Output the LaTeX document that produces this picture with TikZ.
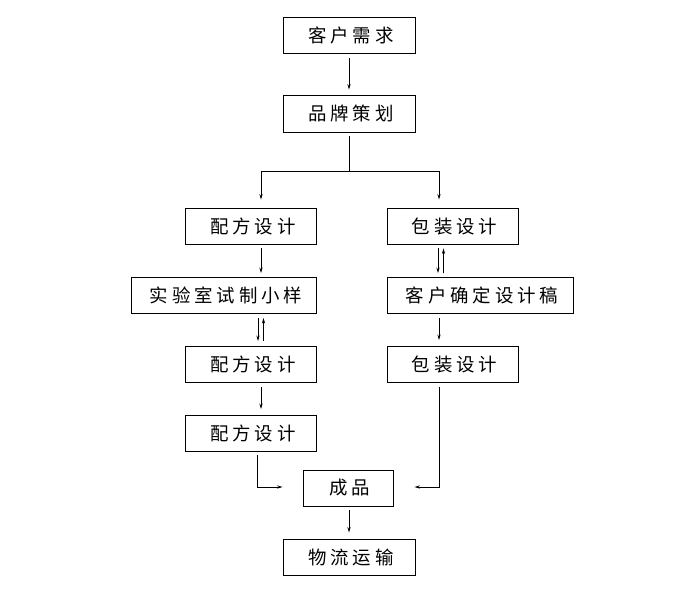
\documentclass[tikz,border=0pt]{standalone}
\usepackage{fontspec}
\newfontfamily\cjk[LetterSpace=21]{Noto Sans CJK SC}
\usetikzlibrary{arrows.meta,calc}
\newcommand\tx[1]{#1\kern-0.21em}
\begin{document}
\begin{tikzpicture}[x=1bp,y=-1bp,
  box/.style={draw,line width=0.9bp,rectangle,minimum height=36bp,inner sep=0pt,
    font=\cjk\fontsize{18.5}{20}\selectfont},
  wbox/.style={box,minimum width=131bp},
  lbox/.style={box,minimum width=185bp},
  arr/.style={line width=0.8bp,-{Stealth[length=5.5bp,width=3.2bp]}},
  ln/.style={line width=0.8bp}]
\useasboundingbox (0,0) rectangle (700,609);
\node[box,minimum width=132bp] (A) at (349,35.5) {\tx{客户需求}};
\node[box,minimum width=132bp,minimum height=37bp] (B) at (349,113.5) {\tx{品牌策划}};
\node[wbox] (C1) at (251,226) {\tx{配方设计}};
\node[wbox] (D1) at (452.5,226) {\tx{包装设计}};
\node[lbox] (C2) at (224,295.5) {\tx{实验室试制小样}};
\node[lbox,minimum width=186bp] (D2) at (480,295.5) {\tx{客户确定设计稿}};
\node[wbox] (C3) at (251,364.5) {\tx{配方设计}};
\node[wbox] (D3) at (452.5,364.5) {\tx{包装设计}};
\node[wbox] (C4) at (251,433.5) {\tx{配方设计}};
\node[box,minimum width=90bp] (E) at (348,488) {\tx{成品}};
\node[box,minimum width=132bp] (F) at (349,557) {\tx{物流运输}};
% A -> B
\draw[arr] ($(A.south)+(0,4)$) -- ($(B.north)+(0,-5)$);
% branch
\coordinate (br) at ($(B.south)+(0,39)$);
\draw[ln] ($(B.south)+(0,4)$) -- (br);
\draw[arr] (br -| 261,0) -- ($(C1.north)+(10,-8)$);
\draw[arr] (br -| 439,0) -- ($(D1.north)+(-13.5,-8)$);
\draw[ln] (br -| 261,0) -- (br -| 439,0);
% left column
\draw[arr] ($(C1.south)+(10,4)$) -- ($(C2.north)+(37,-4)$);
\draw[arr] ($(C2.south)+(34,4)$) -- ($(C3.north)+(7,-5)$);
\draw[arr] ($(C3.north)+(12.5,-5)$) -- ($(C2.south)+(39.5,4)$);
\draw[arr] ($(C3.south)+(10,4)$) -- ($(C4.north)+(10,-6)$);
% right column
\draw[arr] ($(D1.south)+(-14.5,4)$) -- ($(D2.north)+(-42,-4)$);
\draw[arr] ($(D2.north)+(-36.5,-4)$) -- ($(D1.south)+(-9,4)$);
\draw[arr] ($(D2.south)+(-41,4)$) -- ($(D3.north)+(-13.5,-6)$);
% to E
\draw[arr] ($(C4.south)+(6,3)$) |- ($(E.west)+(-20,-1)$);
\draw[arr] ($(D3.south)+(-13.5,4)$) |- ($(E.east)+(21,-1)$);
% E -> F
\draw[arr] ($(E.south)+(1,4)$) -- ($(F.north)+(0,-6)$);
\end{tikzpicture}
\end{document}
